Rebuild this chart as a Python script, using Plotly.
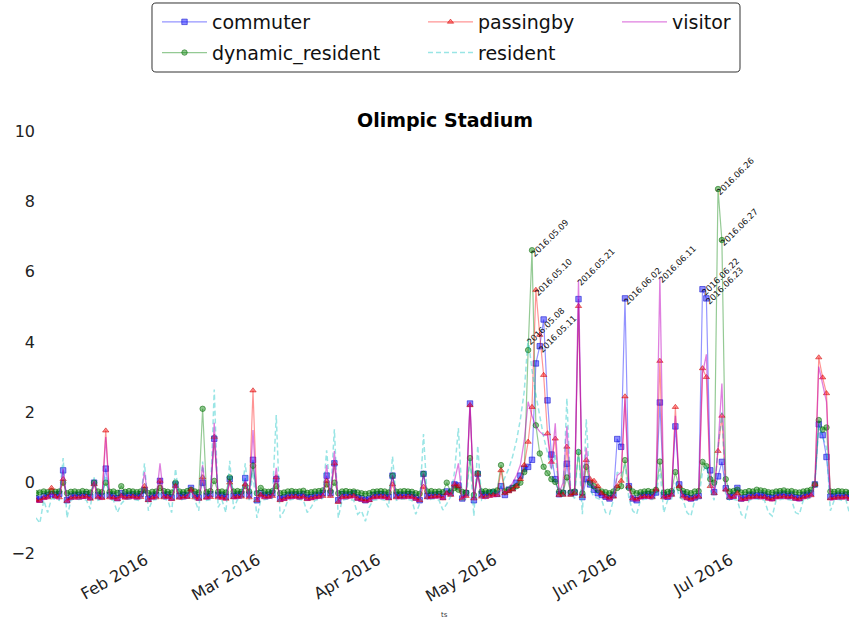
import pandas as pd
import plotly.graph_objects as go

# Daily z-scored presence by user profile at the Olympic Stadium, 2016-01-02 .. 2016-07-31
dates = pd.date_range("2016-01-02", "2016-07-31", freq="D")

commuter = [
    # Jan 2-31
    -0.45, -0.48, -0.38, -0.36, -0.33, -0.35, -0.32, 0.35, -0.5, -0.38, -0.36, -0.35, -0.37, -0.33, -0.4,
    0.0, -0.36, -0.38, 0.4, -0.35, -0.37, -0.44, -0.3, -0.37, -0.36, -0.34, -0.38, -0.33, -0.22, -0.46,
    # Feb
    -0.37, -0.35, 0.05, -0.36, -0.34, -0.42, -0.05, -0.37, -0.35, -0.36, -0.15, -0.34, -0.42, 0.0, -0.38,
    -0.33, 1.25, -0.35, -0.36, -0.4, 0.1, -0.37, -0.35, -0.33, 0.13, -0.34, 0.65, -0.5, -0.3,
    # Mar
    -0.36, -0.35, -0.3, 0.1, -0.45, -0.42, -0.36, -0.35, -0.34, -0.37, -0.33, -0.42, -0.4, -0.36, -0.35,
    -0.3, 0.2, -0.3, 0.55, -0.5, -0.33, -0.35, -0.34, -0.3, -0.42, -0.45, -0.5, -0.46, -0.36, -0.34, -0.33,
    # Apr
    -0.35, -0.4, 0.2, -0.36, -0.35, -0.36, -0.33, -0.34, -0.42, -0.5, 0.25, -0.37, -0.36, -0.35, -0.33,
    -0.4, -0.25, -0.3, -0.05, -0.08, -0.45, -0.3, 2.25, -0.5, 0.25, -0.33, -0.35, -0.3, -0.28, -0.32,
    # May
    -0.1, -0.35, -0.2, -0.15, 0.0, 0.2, 0.4, 0.45, 0.65, 3.39, 3.88, 4.64, 2.34, 0.8, 0.1,
    -0.33, -0.3, 0.54, -0.3, -0.28, 5.22, -0.41, 0.1, -0.05, -0.2, -0.3, -0.35, -0.4, -0.45, -0.35, 1.24,
    # Jun
    1.02, 5.24, -0.1, -0.45, -0.5, -0.38, -0.35, -0.33, -0.36, -0.28, 2.28, -0.35, -0.4, -0.3, 1.6,
    -0.05, -0.32, -0.4, -0.45, -0.42, -0.38, 5.5, 5.24, 0.35, -0.27, 0.18, 0.59, -0.16, -0.4, -0.36,
    # Jul
    -0.15, -0.45, -0.42, -0.36, -0.35, -0.37, -0.34, -0.36, -0.4, -0.43, -0.36, -0.35, -0.33, -0.37, -0.35,
    -0.42, -0.44, -0.36, -0.34, -0.3, -0.05, 1.66, 1.35, 0.73, -0.4, -0.38, -0.36, -0.37, -0.35, -0.42, -0.4,
]

dynamic_resident = [
    -0.3, -0.28, -0.25, -0.27, -0.24, -0.26, -0.25, 0.0, -0.3, -0.26, -0.25, -0.27, -0.24, -0.26, -0.28,
    0.0, -0.25, -0.27, 0.0, -0.26, -0.25, -0.29, -0.1, -0.26, -0.24, -0.25, -0.27, -0.25, -0.2, -0.3,
    -0.26, -0.25, -0.15, -0.24, -0.26, -0.28, 0.0, -0.25, -0.27, -0.24, -0.2, -0.25, -0.28, 2.1, -0.27,
    -0.24, 0.05, -0.26, -0.25, -0.28, 0.15, -0.25, -0.24, -0.26, -0.1, -0.25, 0.48, -0.3, -0.15,
    -0.25, -0.26, -0.24, -0.1, -0.3, -0.28, -0.25, -0.24, -0.26, -0.25, -0.23, -0.29, -0.27, -0.25, -0.24,
    -0.22, -0.05, -0.24, 0.0, -0.3, -0.25, -0.24, -0.26, -0.25, -0.28, -0.3, -0.32, -0.3, -0.26, -0.25, -0.24,
    -0.25, -0.28, 0.2, -0.26, -0.25, -0.24, -0.25, -0.26, -0.3, -0.32, 0.25, -0.25, -0.24, -0.26, -0.25,
    -0.27, 0.0, -0.25, -0.15, -0.2, -0.26, -0.28, 0.7, -0.35, 0.27, -0.25, -0.24, -0.26, -0.25, -0.22,
    0.5, -0.25, -0.2, -0.15, -0.1, 0.0, 0.3, 3.77, 6.61, 1.63, 0.83, 0.45, 0.27, 0.1, 0.02,
    -0.25, -0.28, 0.15, -0.27, -0.25, 0.87, -0.3, 0.45, 0.0, -0.1, -0.2, -0.25, -0.27, -0.3, -0.25, -0.15,
    -0.1, 0.64, -0.15, -0.25, -0.3, -0.27, -0.25, -0.24, -0.26, -0.2, 0.6, -0.28, -0.26, -0.24, 0.3,
    -0.15, -0.24, -0.27, -0.3, -0.25, -0.24, 0.59, 0.47, 0.1, 0.0, 8.35, 6.9, 0.1, -0.25, -0.24,
    -0.2, -0.28, -0.27, -0.24, -0.25, -0.2, -0.22, -0.24, -0.27, -0.28, -0.25, -0.24, -0.22, -0.25, -0.24,
    -0.27, -0.28, -0.25, -0.23, -0.2, -0.05, 1.78, 1.51, 1.57, -0.25, -0.26, -0.24, -0.25, -0.26, -0.28, -0.27,
]

passingby = [
    -0.5, -0.52, -0.44, -0.42, -0.15, -0.4, -0.42, 0.1, -0.52, -0.44, -0.42, -0.43, -0.41, -0.4, -0.46,
    -0.05, -0.42, -0.44, 1.48, -0.42, -0.43, -0.47, -0.38, -0.43, -0.42, -0.4, -0.43, -0.41, -0.1, -0.5,
    -0.43, -0.42, 0.05, -0.42, -0.41, -0.47, -0.1, -0.43, -0.42, -0.41, -0.2, -0.42, -0.46, 0.15, -0.43,
    -0.41, 1.3, -0.42, -0.43, -0.46, 0.0, -0.42, -0.41, -0.4, -0.05, -0.42, 2.62, -0.5, -0.35,
    -0.42, -0.41, -0.38, 0.15, -0.5, -0.47, -0.42, -0.41, -0.4, -0.43, -0.4, -0.47, -0.45, -0.42, -0.41,
    -0.38, 0.05, -0.38, 0.55, -0.55, -0.41, -0.42, -0.4, -0.38, -0.46, -0.48, -0.52, -0.5, -0.42, -0.41, -0.4,
    -0.41, -0.45, -0.05, -0.42, -0.41, -0.42, -0.4, -0.41, -0.46, -0.5, -0.12, -0.42, -0.41, -0.4, -0.39,
    -0.45, -0.3, -0.35, -0.05, -0.1, -0.45, -0.38, 2.2, -0.45, 0.25, -0.4, -0.41, -0.38, -0.36, -0.35,
    0.35, -0.3, -0.25, -0.2, -0.1, 0.1, 0.5, 1.16, 2.15, 5.48, 4.2, 3.06, 1.4, 0.59, 1.25,
    -0.35, -0.35, 1.02, -0.35, -0.3, 5.02, -0.38, 0.64, 0.1, 0.05, -0.1, -0.3, -0.4, -0.45, -0.4, -0.1,
    0.05, 2.45, -0.1, -0.45, -0.48, -0.42, -0.4, -0.41, -0.42, -0.2, 3.46, -0.42, -0.41, -0.35, 2.15,
    -0.1, -0.4, -0.45, -0.47, -0.43, -0.4, 3.25, 3.0, -0.1, -0.3, 0.9, 1.9, -0.2, -0.42, -0.41,
    -0.3, -0.48, -0.47, -0.42, -0.41, -0.4, -0.42, -0.41, -0.46, -0.48, -0.42, -0.41, -0.4, -0.42, -0.41,
    -0.46, -0.47, -0.42, -0.4, -0.36, -0.05, 3.56, 2.99, 2.54, -0.45, -0.44, -0.42, -0.43, -0.41, -0.46, -0.45,
]

resident = [
    -1.0, -1.15, -0.5, -0.85, -0.45, -0.47, -0.5, 0.7, -1.0, -0.5, -0.45, -0.48, -0.46, -0.5, -0.75,
    0.15, -0.5, -0.47, 0.2, -0.48, -0.5, -0.85, -0.6, -0.48, -0.46, -0.47, -0.5, -0.52, 0.55, -0.8,
    -0.5, -0.48, -0.3, -0.46, -0.5, -0.85, 0.4, -0.5, -0.47, -0.46, -0.3, -0.5, -0.8, 0.6, -0.5,
    -0.48, 2.65, -0.7, -0.5, -0.85, 0.62, -0.75, -0.48, -0.47, 0.55, -0.5, 0.3, -1.0, -0.5,
    -0.47, -0.46, -0.45, 1.92, -1.0, -0.8, -0.5, -0.47, -0.46, -0.48, -0.5, -0.85, -0.7, -0.5, -0.48,
    -0.45, 0.92, -0.4, 1.52, -1.0, -0.5, -0.47, -0.48, -0.5, -0.9, -0.8, -1.1, -0.7, -0.5, -0.48, -0.47,
    -0.5, -0.7, 0.75, -0.5, -0.47, -0.46, -0.48, -0.5, -0.9, -0.6, 1.38, -0.5, -0.47, -0.46, -0.5,
    -0.78, -0.6, -0.4, 0.3, 1.55, -0.5, -0.45, 0.7, -0.95, 1.05, -0.5, -0.45, -0.35, -0.2, -0.3,
    -0.1, 0.15, 0.4, 0.75, 1.2, 1.8, 2.6, 4.1, 3.2, 2.5, 1.9, 1.3, 0.85, 0.35, 0.8,
    -0.2, -0.4, 2.4, -0.3, -0.45, 1.0, -0.9, 1.8, -0.2, -0.4, -0.45, -0.5, -0.85, -0.9, -0.5, 0.3,
    0.2, 0.5, -0.45, -0.8, -0.9, -0.5, -0.47, -0.46, -0.48, -0.4, 0.4, -0.85, -0.5, -0.47, 0.0,
    -0.4, -0.5, -0.85, -0.95, -0.5, -0.45, 0.3, 0.5, -0.2, -0.5, 1.0, 2.0, -0.4, -0.5, -0.47,
    -0.5, -0.9, -1.0, -0.5, -0.47, -0.46, -0.48, -0.5, -0.85, -0.95, -0.5, -0.47, -0.46, -0.48, -0.5,
    -0.85, -0.9, -0.5, -0.47, -0.4, 0.0, 1.6, 1.3, 1.0, -0.8, -0.5, -0.47, -0.5, -0.48, -0.9, -0.95,
]

visitor = [
    -0.55, -0.56, -0.48, -0.46, -0.3, -0.45, -0.47, 0.4, -0.55, -0.48, -0.46, -0.47, -0.45, -0.44, -0.5,
    0.05, -0.46, -0.48, 1.3, -0.46, -0.47, -0.5, -0.42, -0.47, -0.46, -0.44, -0.47, -0.45, 0.3, -0.52,
    -0.47, -0.46, 0.55, -0.46, -0.45, -0.5, -0.05, -0.47, -0.46, -0.45, -0.2, -0.46, -0.5, 0.5, -0.47,
    -0.45, 1.7, -0.46, -0.47, -0.5, 0.05, -0.46, -0.45, -0.44, 0.05, -0.46, 1.5, -0.52, -0.4,
    -0.46, -0.45, -0.42, 0.42, -0.52, -0.5, -0.46, -0.45, -0.44, -0.47, -0.44, -0.5, -0.48, -0.46, -0.45,
    -0.42, 0.5, -0.42, 0.9, -0.55, -0.45, -0.46, -0.44, -0.42, -0.5, -0.52, -0.55, -0.53, -0.46, -0.45, -0.44,
    -0.45, -0.48, 0.2, -0.46, -0.45, -0.46, -0.44, -0.45, -0.5, -0.52, 0.25, -0.46, -0.45, -0.44, -0.43,
    -0.48, -0.3, -0.35, 0.05, 0.55, -0.46, -0.4, 2.3, -0.5, 0.25, -0.44, -0.45, -0.42, -0.4, -0.38,
    -0.2, -0.3, -0.2, 0.0, 0.2, 0.5, 1.2, 2.3, 1.9, 1.6, 1.45, 1.35, 1.35, 0.4, 1.69,
    -0.3, 0.0, 1.6, -0.3, -0.2, 5.76, -0.35, 1.0, 0.0, -0.1, -0.2, -0.35, -0.45, -0.5, -0.42, 0.2,
    0.3, 2.4, -0.2, -0.5, -0.52, -0.46, -0.44, -0.45, -0.46, -0.2, 5.85, -0.46, -0.45, -0.4, 1.9,
    -0.05, -0.44, -0.5, -0.52, -0.47, -0.44, 3.1, 3.65, -0.05, -0.35, 1.0, 2.82, -0.25, -0.46, -0.45,
    -0.35, -0.52, -0.5, -0.46, -0.45, -0.44, -0.46, -0.45, -0.5, -0.52, -0.46, -0.45, -0.44, -0.46, -0.45,
    -0.5, -0.52, -0.46, -0.44, -0.4, -0.05, 3.3, 2.8, 2.3, -0.5, -0.48, -0.46, -0.47, -0.45, -0.5, -0.5,
]

# Days flagged with their date, and the profile whose value carries the label
flagged_days = [
    ("2016-05-08", "resident"), ("2016-05-09", "dynamic_resident"), ("2016-05-10", "passingby"),
    ("2016-05-11", "commuter"), ("2016-05-21", "visitor"), ("2016-06-02", "commuter"),
    ("2016-06-11", "visitor"), ("2016-06-22", "commuter"), ("2016-06-23", "commuter"),
    ("2016-06-26", "dynamic_resident"), ("2016-06-27", "dynamic_resident"),
]

series = {
    "commuter": commuter,
    "dynamic_resident": dynamic_resident,
    "passingby": passingby,
    "resident": resident,
    "visitor": visitor,
}
for name, vals in series.items():
    assert len(vals) == len(dates), (name, len(vals))

# ---- layout geometry (pixels) ----
W, H = 849, 623
L, R, T, B = 36, 0, 131, 70
PW, PH = W - L - R, H - T - B
PX_PER_DAY = 3.875
x_end = dates[0] + pd.Timedelta(days=PW / PX_PER_DAY)


def px_x(X):
    return (X - L) / PW


def px_y(Y):
    return (H - B - Y) / PH


FONT = "DejaVu Sans"

fig = go.Figure()

styles = {
    "commuter": dict(mode="lines+markers",
                     line=dict(color="rgba(0,0,255,0.42)", width=1.2),
                     marker=dict(symbol="square", size=5.5, color="rgba(0,0,255,0.45)",
                                 line=dict(color="rgba(0,0,200,0.65)", width=0.8)),
                     legend="legend"),
    "dynamic_resident": dict(mode="lines+markers",
                             line=dict(color="rgba(0,128,0,0.42)", width=1.2),
                             marker=dict(symbol="circle", size=5.5, color="rgba(0,128,0,0.45)",
                                         line=dict(color="rgba(0,100,0,0.65)", width=0.8)),
                             legend="legend"),
    "passingby": dict(mode="lines+markers",
                      line=dict(color="rgba(255,0,0,0.42)", width=1.2),
                      marker=dict(symbol="triangle-up", size=5.5, color="rgba(255,0,0,0.45)",
                                  line=dict(color="rgba(200,0,0,0.65)", width=0.8)),
                      legend="legend2"),
    "resident": dict(mode="lines",
                     line=dict(color="rgba(0,191,191,0.4)", width=1.5, dash="5px,3px"),
                     legend="legend2"),
    "visitor": dict(mode="lines",
                    line=dict(color="rgba(191,0,191,0.5)", width=1.3),
                    legend="legend3"),
}

for name, vals in series.items():
    fig.add_trace(go.Scatter(x=dates, y=vals, name=name, legendgroup=name,
                             cliponaxis=True, **styles[name]))

annotations = []
for day, who in flagged_days:
    idx = dates.get_loc(pd.Timestamp(day))
    annotations.append(dict(
        x=day, y=series[who][idx], xref="x", yref="y",
        text=day.replace("-", "."), showarrow=False, textangle=-45,
        xanchor="left", yanchor="bottom", xshift=-6, yshift=-11,
        font=dict(family=FONT, size=8.5, color="#111"),
    ))

annotations.append(dict(
    x=px_x(445), y=px_y(120), xref="paper", yref="paper",
    text="<b>Olimpic Stadium</b>", showarrow=False, xanchor="center", yanchor="middle",
    font=dict(family=FONT, size=19, color="#000"),
))
annotations.append(dict(
    x=px_x(445), y=px_y(615), xref="paper", yref="paper",
    text="ts", showarrow=False, xanchor="center", yanchor="middle",
    font=dict(family=FONT, size=7, color="#333"),
))

# rounded frame around the three legend columns
fx0, fx1, fy0, fy1, rad = 152, 740, 3, 72, 4
pts = [
    ("M", fx0 + rad, fy0), ("L", fx1 - rad, fy0), ("Q", fx1, fy0, fx1, fy0 + rad),
    ("L", fx1, fy1 - rad), ("Q", fx1, fy1, fx1 - rad, fy1), ("L", fx0 + rad, fy1),
    ("Q", fx0, fy1, fx0, fy1 - rad), ("L", fx0, fy0 + rad), ("Q", fx0, fy0, fx0 + rad, fy0),
]
path = ""
for p in pts:
    cmd, coords = p[0], p[1:]
    xy = []
    for i in range(0, len(coords), 2):
        xy.append(f"{px_x(coords[i]):.5f},{px_y(coords[i + 1]):.5f}")
    path += cmd + " ".join(xy) + " "
path += "Z"

legend_common = dict(
    orientation="v", xanchor="left", yanchor="top", bgcolor="rgba(0,0,0,0)",
    borderwidth=0, font=dict(family=FONT, size=19, color="#111"),
    itemwidth=45, tracegroupgap=3, traceorder="grouped",
)

fig.update_layout(
    width=W, height=H,
    margin=dict(l=L, r=R, t=T, b=B, pad=0, autoexpand=False),
    paper_bgcolor="white", plot_bgcolor="white",
    showlegend=True,
    legend=dict(x=px_x(157), y=px_y(3), **legend_common),
    legend2=dict(x=px_x(423), y=px_y(3), **legend_common),
    legend3=dict(x=px_x(617), y=px_y(3), **legend_common),
    shapes=[dict(type="path", path=path, xref="paper", yref="paper",
                 line=dict(color="#333", width=1), fillcolor="rgba(0,0,0,0)", layer="above")],
    annotations=annotations,
    xaxis=dict(
        range=[dates[0], x_end], showgrid=False, zeroline=False, showline=False,
        ticks="", tick0="2016-01-01", dtick="M1", tickformat="%b %Y", tickangle=-30,
        ticklabelshift=-7, ticklabelstandoff=-6,
        tickfont=dict(family=FONT, size=16, color="#222"), automargin=False,
    ),
    yaxis=dict(
        range=[-2, 10], dtick=2, showgrid=False, zeroline=False, showline=False,
        ticks="", tickfont=dict(family=FONT, size=16, color="#222"), automargin=False,
    ),
)

fig.write_html("out.html")
